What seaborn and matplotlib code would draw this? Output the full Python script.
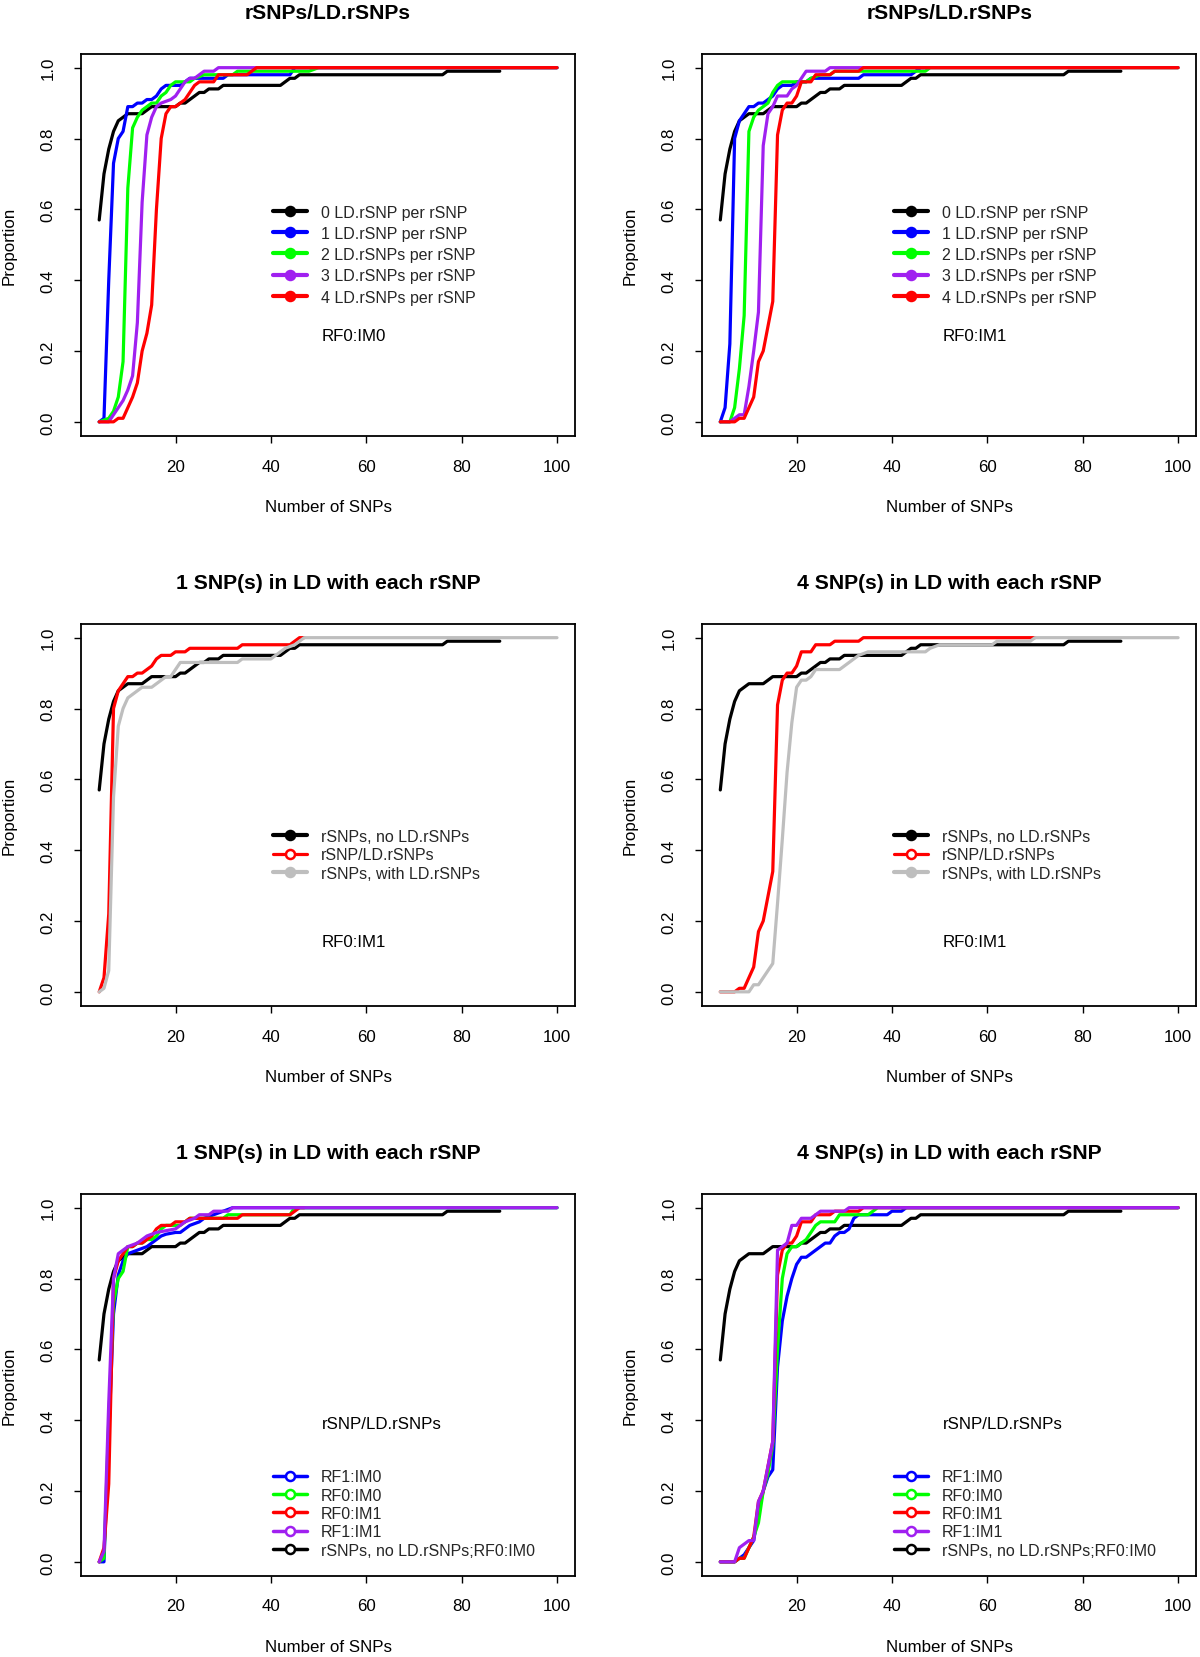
import pandas as pd
import seaborn as sns
import matplotlib.pyplot as plt
from matplotlib.lines import Line2D

# --- data (x = number of SNPs, y = cumulative proportion) ---
NO_LD_X = [4, 5, 6, 7, 8, 9, 10, 13, 14, 15, 20, 21, 22, 23, 24, 25, 26, 27, 29, 30, 42, 43, 44, 45, 46, 76, 77, 88]
NO_LD_Y = [0.57, 0.70, 0.77, 0.82, 0.85, 0.86, 0.87, 0.87, 0.88, 0.89, 0.89, 0.90, 0.90, 0.91, 0.92, 0.93, 0.93,
           0.94, 0.94, 0.95, 0.95, 0.96, 0.97, 0.97, 0.98, 0.98, 0.99, 0.99]

# RF0:IM0, n LD.rSNPs per rSNP
IM0_LD1_X = [4, 5, 6, 7, 8, 9, 10, 11, 12, 13, 14, 15, 16, 17, 18, 21, 22, 23, 30, 31, 44, 45, 100]
IM0_LD1_Y = [0, 0.01, 0.40, 0.73, 0.80, 0.82, 0.89, 0.89, 0.90, 0.90, 0.91, 0.91, 0.92, 0.94, 0.95, 0.95, 0.96,
             0.97, 0.97, 0.98, 0.98, 1.0, 1.0]
IM0_LD2_X = [4, 6, 7, 8, 9, 10, 11, 12, 13, 14, 15, 16, 17, 18, 19, 20, 23, 24, 26, 32, 33, 48, 50, 100]
IM0_LD2_Y = [0, 0.01, 0.03, 0.07, 0.17, 0.66, 0.83, 0.86, 0.88, 0.89, 0.90, 0.90, 0.92, 0.93, 0.95, 0.96, 0.96,
             0.97, 0.98, 0.98, 0.99, 0.99, 1.0, 1.0]
IM0_LD3_X = [4, 6, 7, 8, 9, 10, 11, 12, 13, 14, 15, 16, 17, 19, 20, 21, 22, 23, 24, 25, 26, 28, 29, 100]
IM0_LD3_Y = [0, 0, 0.02, 0.04, 0.06, 0.09, 0.13, 0.28, 0.62, 0.81, 0.86, 0.89, 0.90, 0.91, 0.92, 0.94, 0.96,
             0.97, 0.97, 0.98, 0.99, 0.99, 1.0, 1.0]
IM0_LD4_X = [4, 7, 8, 9, 10, 11, 12, 13, 14, 15, 16, 17, 18, 19, 20, 21, 22, 23, 24, 25, 28, 29, 35, 36, 37, 100]
IM0_LD4_Y = [0, 0, 0.01, 0.01, 0.04, 0.07, 0.11, 0.20, 0.25, 0.33, 0.60, 0.80, 0.87, 0.89, 0.89, 0.90, 0.91,
             0.93, 0.95, 0.96, 0.96, 0.98, 0.98, 0.99, 1.0, 1.0]

# RF0:IM1, n LD.rSNPs per rSNP
IM1_LD1_X = [4, 5, 6, 7, 8, 9, 10, 11, 12, 13, 14, 15, 16, 17, 19, 20, 22, 23, 33, 34, 44, 45, 46, 47]
IM1_LD1_Y = [0, 0.04, 0.22, 0.80, 0.85, 0.87, 0.89, 0.89, 0.90, 0.90, 0.91, 0.92, 0.94, 0.95, 0.95, 0.96, 0.96,
             0.97, 0.97, 0.98, 0.98, 0.99, 1.0, 1.0]
IM1_LD2_X = [4, 6, 7, 8, 9, 10, 11, 12, 13, 14, 15, 16, 17, 22, 23, 25, 27, 28, 47, 48, 100]
IM1_LD2_Y = [0, 0, 0.04, 0.15, 0.30, 0.82, 0.86, 0.88, 0.89, 0.90, 0.93, 0.95, 0.96, 0.96, 0.97, 0.98, 0.98,
             0.99, 0.99, 1.0, 1.0]
IM1_LD3_X = [4, 6, 7, 8, 9, 10, 11, 12, 13, 14, 15, 16, 18, 19, 20, 21, 22, 26, 27, 100]
IM1_LD3_Y = [0, 0, 0.01, 0.02, 0.02, 0.10, 0.20, 0.31, 0.78, 0.87, 0.89, 0.92, 0.92, 0.94, 0.95, 0.97, 0.99,
             0.99, 1.0, 1.0]
IM1_LD4_X = [4, 7, 8, 9, 10, 11, 12, 13, 14, 15, 16, 17, 18, 19, 20, 21, 23, 24, 27, 28, 33, 34, 70, 100]
IM1_LD4_Y = [0, 0, 0.01, 0.01, 0.04, 0.07, 0.17, 0.20, 0.27, 0.34, 0.81, 0.88, 0.90, 0.90, 0.92, 0.96, 0.96,
             0.98, 0.98, 0.99, 0.99, 1.0, 1.0, 1.0]

# rSNPs that have LD.rSNPs (RF0:IM1)
WITH_LD1_X = [4, 5, 6, 7, 8, 9, 10, 11, 12, 13, 15, 16, 17, 18, 19, 20, 21, 33, 34, 40, 41, 42, 43, 45, 47, 100]
WITH_LD1_Y = [0, 0.01, 0.06, 0.55, 0.75, 0.80, 0.83, 0.84, 0.85, 0.86, 0.86, 0.87, 0.88, 0.89, 0.89, 0.91, 0.93,
              0.93, 0.94, 0.94, 0.95, 0.96, 0.97, 0.98, 1.0, 1.0]
WITH_LD4_X = [4, 10, 11, 12, 13, 14, 15, 16, 17, 18, 19, 20, 21, 22, 23, 24, 29, 30, 31, 32, 33, 35, 47, 48, 50,
              61, 62, 69, 70, 100]
WITH_LD4_Y = [0, 0, 0.02, 0.02, 0.04, 0.06, 0.08, 0.25, 0.43, 0.62, 0.76, 0.86, 0.88, 0.88, 0.89, 0.91, 0.91,
              0.92, 0.93, 0.94, 0.95, 0.96, 0.96, 0.97, 0.98, 0.98, 0.99, 0.99, 1.0, 1.0]

# RF1 variants
RF1IM0_LD1_X = [4, 5, 6, 7, 8, 9, 10, 11, 12, 13, 14, 15, 16, 17, 18, 20, 21, 22, 23, 24, 25, 26, 28, 30, 32, 100]
RF1IM0_LD1_Y = [0, 0, 0.35, 0.70, 0.81, 0.85, 0.87, 0.875, 0.88, 0.885, 0.89, 0.90, 0.91, 0.92, 0.925, 0.93,
                0.93, 0.94, 0.95, 0.955, 0.96, 0.97, 0.98, 0.99, 1.0, 1.0]
RF1IM1_LD1_X = [4, 5, 6, 7, 8, 9, 10, 11, 12, 13, 14, 15, 16, 18, 20, 21, 22, 24, 25, 27, 28, 31, 32, 100]
RF1IM1_LD1_Y = [0, 0.03, 0.45, 0.80, 0.87, 0.88, 0.89, 0.895, 0.90, 0.91, 0.92, 0.925, 0.93, 0.935, 0.94, 0.95,
                0.96, 0.97, 0.98, 0.98, 0.99, 0.99, 1.0, 1.0]
RF1IM0_LD4_X = [4, 7, 8, 9, 10, 11, 12, 13, 14, 15, 16, 17, 18, 19, 20, 21, 22, 23, 24, 25, 26, 27, 28, 29, 30,
                31, 32, 33, 39, 40, 42, 43, 100]
RF1IM0_LD4_Y = [0, 0, 0.01, 0.02, 0.04, 0.06, 0.14, 0.20, 0.24, 0.26, 0.55, 0.68, 0.75, 0.80, 0.84, 0.86, 0.86,
                0.87, 0.88, 0.89, 0.90, 0.90, 0.92, 0.93, 0.93, 0.94, 0.97, 0.98, 0.98, 0.99, 0.99, 1.0, 1.0]
RF1IM1_LD4_X = [4, 7, 8, 9, 10, 11, 12, 13, 14, 15, 16, 17, 18, 19, 20, 21, 23, 24, 25, 30, 31, 100]
RF1IM1_LD4_Y = [0, 0, 0.04, 0.05, 0.06, 0.06, 0.17, 0.20, 0.27, 0.34, 0.88, 0.89, 0.90, 0.95, 0.95, 0.97, 0.97,
                0.98, 0.99, 0.99, 1.0, 1.0]

BLACK, BLUE, GREEN, RED, PURPLE, GREY = "#000000", "#0000FF", "#00FF00", "#FF0000", "#A020F0", "#BEBEBE"
TITLE_TOP = "rSNPs/LD.rSNPs"
TITLE_1 = "1 SNP(s) in LD with each rSNP"
TITLE_4 = "4 SNP(s) in LD with each rSNP"
NO_LD_RF0 = "rSNPs, no LD.rSNPs;RF0:IM0"

# series: (label, x, y, colour, legend lw, filled marker); drawn in list order
PANELS = [
    dict(title=TITLE_TOP, note="RF0:IM0", note_y=0.243, leg_y=0.605, spacing=0.39, series=[
        ("0 LD.rSNP per rSNP", NO_LD_X, NO_LD_Y, BLACK, 3.0, True),
        ("1 LD.rSNP per rSNP", IM0_LD1_X, IM0_LD1_Y, BLUE, 3.0, True),
        ("2 LD.rSNPs per rSNP", IM0_LD2_X, IM0_LD2_Y, GREEN, 3.0, True),
        ("3 LD.rSNPs per rSNP", IM0_LD3_X, IM0_LD3_Y, PURPLE, 3.0, True),
        ("4 LD.rSNPs per rSNP", IM0_LD4_X, IM0_LD4_Y, RED, 3.0, True)]),
    dict(title=TITLE_TOP, note="RF0:IM1", note_y=0.243, leg_y=0.605, spacing=0.39, series=[
        ("0 LD.rSNP per rSNP", NO_LD_X, NO_LD_Y, BLACK, 3.0, True),
        ("1 LD.rSNP per rSNP", IM1_LD1_X, IM1_LD1_Y, BLUE, 3.0, True),
        ("2 LD.rSNPs per rSNP", IM1_LD2_X, IM1_LD2_Y, GREEN, 3.0, True),
        ("3 LD.rSNPs per rSNP", IM1_LD3_X, IM1_LD3_Y, PURPLE, 3.0, True),
        ("4 LD.rSNPs per rSNP", IM1_LD4_X, IM1_LD4_Y, RED, 3.0, True)]),
    dict(title=TITLE_1, note="RF0:IM1", note_y=0.141, leg_y=0.463, spacing=0.21, series=[
        ("rSNPs, no LD.rSNPs", NO_LD_X, NO_LD_Y, BLACK, 3.0, True),
        ("rSNP/LD.rSNPs", IM1_LD1_X, IM1_LD1_Y, RED, 2.3, False),
        ("rSNPs, with LD.rSNPs", WITH_LD1_X, WITH_LD1_Y, GREY, 3.0, True)]),
    dict(title=TITLE_4, note="RF0:IM1", note_y=0.141, leg_y=0.463, spacing=0.21, xmax_red=70, series=[
        ("rSNPs, no LD.rSNPs", NO_LD_X, NO_LD_Y, BLACK, 3.0, True),
        ("rSNP/LD.rSNPs", IM1_LD4_X, IM1_LD4_Y, RED, 2.3, False),
        ("rSNPs, with LD.rSNPs", WITH_LD4_X, WITH_LD4_Y, GREY, 3.0, True)]),
    dict(title=TITLE_1, note="rSNP/LD.rSNPs", note_y=0.39, leg_y=0.279, spacing=0.21, series=[
        (NO_LD_RF0, NO_LD_X, NO_LD_Y, BLACK, 2.5, False),
        ("RF1:IM0", RF1IM0_LD1_X, RF1IM0_LD1_Y, BLUE, 2.5, False),
        ("RF0:IM0", IM0_LD1_X, IM0_LD1_Y, GREEN, 2.5, False),
        ("RF0:IM1", IM1_LD1_X, IM1_LD1_Y, RED, 2.5, False),
        ("RF1:IM1", RF1IM1_LD1_X, RF1IM1_LD1_Y, PURPLE, 2.5, False)]),
    dict(title=TITLE_4, note="rSNP/LD.rSNPs", note_y=0.39, leg_y=0.279, spacing=0.21, series=[
        (NO_LD_RF0, NO_LD_X, NO_LD_Y, BLACK, 2.5, False),
        ("RF1:IM0", RF1IM0_LD4_X, RF1IM0_LD4_Y, BLUE, 2.5, False),
        ("RF0:IM0", IM0_LD4_X, IM0_LD4_Y, GREEN, 2.5, False),
        ("RF0:IM1", IM1_LD4_X, IM1_LD4_Y, RED, 2.5, False),
        ("RF1:IM1", RF1IM1_LD4_X, RF1IM1_LD4_Y, PURPLE, 2.5, False)]),
]

W, H = 1200, 1658
AX_W, AX_H = 494.4, 382.5
COL_LEFT = [80.9, 702.0]
ROW_TOP = [54.5, 624.5, 1194.5]
FS = 12.2
LEG_FS = 11.5

sns.set_theme(style="white")
plt.rcParams["font.family"] = ["Liberation Sans", "DejaVu Sans"]

fig = plt.figure(figsize=(W / 100, H / 100), dpi=100)

for i, p in enumerate(PANELS):
    row, col = divmod(i, 2)
    left = COL_LEFT[col] / W
    bottom = 1 - (ROW_TOP[row] + AX_H) / H
    ax = fig.add_axes([left, bottom, AX_W / W, AX_H / H])

    frames = []
    for label, xs, ys, color, _, _ in p["series"]:
        d = pd.DataFrame({"x": xs, "y": ys, "series": label})
        if color == RED and "xmax_red" in p:
            d = d[d["x"] <= p["xmax_red"]]
        frames.append(d)
    df = pd.concat(frames, ignore_index=True)
    order = [s[0] for s in p["series"]]
    palette = {s[0]: s[3] for s in p["series"]}
    sns.lineplot(data=df, x="x", y="y", hue="series", hue_order=order, palette=palette,
                 estimator=None, sort=False, linewidth=2.3, legend=False, ax=ax,
                 solid_capstyle="round", solid_joinstyle="round")

    ax.set_xlim(0.16, 103.84)
    ax.set_ylim(-0.04, 1.04)
    ax.set_xticks([20, 40, 60, 80, 100])
    ax.set_xticklabels(["20", "40", "60", "80", "100"])
    ax.set_yticks([0, 0.2, 0.4, 0.6, 0.8, 1.0])
    ax.set_yticklabels(["0.0", "0.2", "0.4", "0.6", "0.8", "1.0"])
    ax.tick_params(axis="both", direction="out", length=5, width=1.0, color="black",
                   labelsize=FS, labelcolor="black", bottom=True, left=True)
    ax.tick_params(axis="x", pad=16.6)
    ax.tick_params(axis="y", pad=18.8)
    for lab in ax.get_xticklabels():
        lab.set_va("center")
    for lab in ax.get_yticklabels():
        lab.set_rotation(90)
        lab.set_va("center")
        lab.set_ha("center")
    for sp in ax.spines.values():
        sp.set_visible(True)
        sp.set_color("black")
        sp.set_linewidth(1.3)

    ax.set_xlabel("Number of SNPs", fontsize=FS, color="black")
    ax.xaxis.set_label_coords(0.5, -71 / AX_H)
    ax.xaxis.label.set_va("center")
    ax.set_ylabel("Proportion", fontsize=FS, color="black")
    ax.yaxis.set_label_coords(-72 / AX_W, 0.5)
    ax.yaxis.label.set_va("center")

    ax.text(0.5, 1 + 41 / AX_H, p["title"], transform=ax.transAxes, ha="center", va="center",
            fontsize=15.2, fontweight="bold", color="black")
    ax.text(50.6, p["note_y"], p["note"], ha="left", va="center", fontsize=FS, color="black")

    # legend order: black first for the top rows, black last for the bottom row
    leg_series = p["series"]
    if row == 2:
        leg_series = leg_series[1:] + leg_series[:1]
    handles = [Line2D([], [], color=c, lw=lw, marker="o", markersize=6.5, markeredgewidth=1.8,
                      markerfacecolor=(c if filled else "white"))
               for _, _, _, c, lw, filled in leg_series]
    ax.legend(handles, [s[0] for s in leg_series], loc="upper left", bbox_to_anchor=(0.389, p["leg_y"]),
              frameon=False, borderpad=0, borderaxespad=0, handlelength=2.1, handletextpad=0.9,
              labelspacing=p["spacing"], fontsize=LEG_FS)

fig.savefig("out.png", dpi=100)
